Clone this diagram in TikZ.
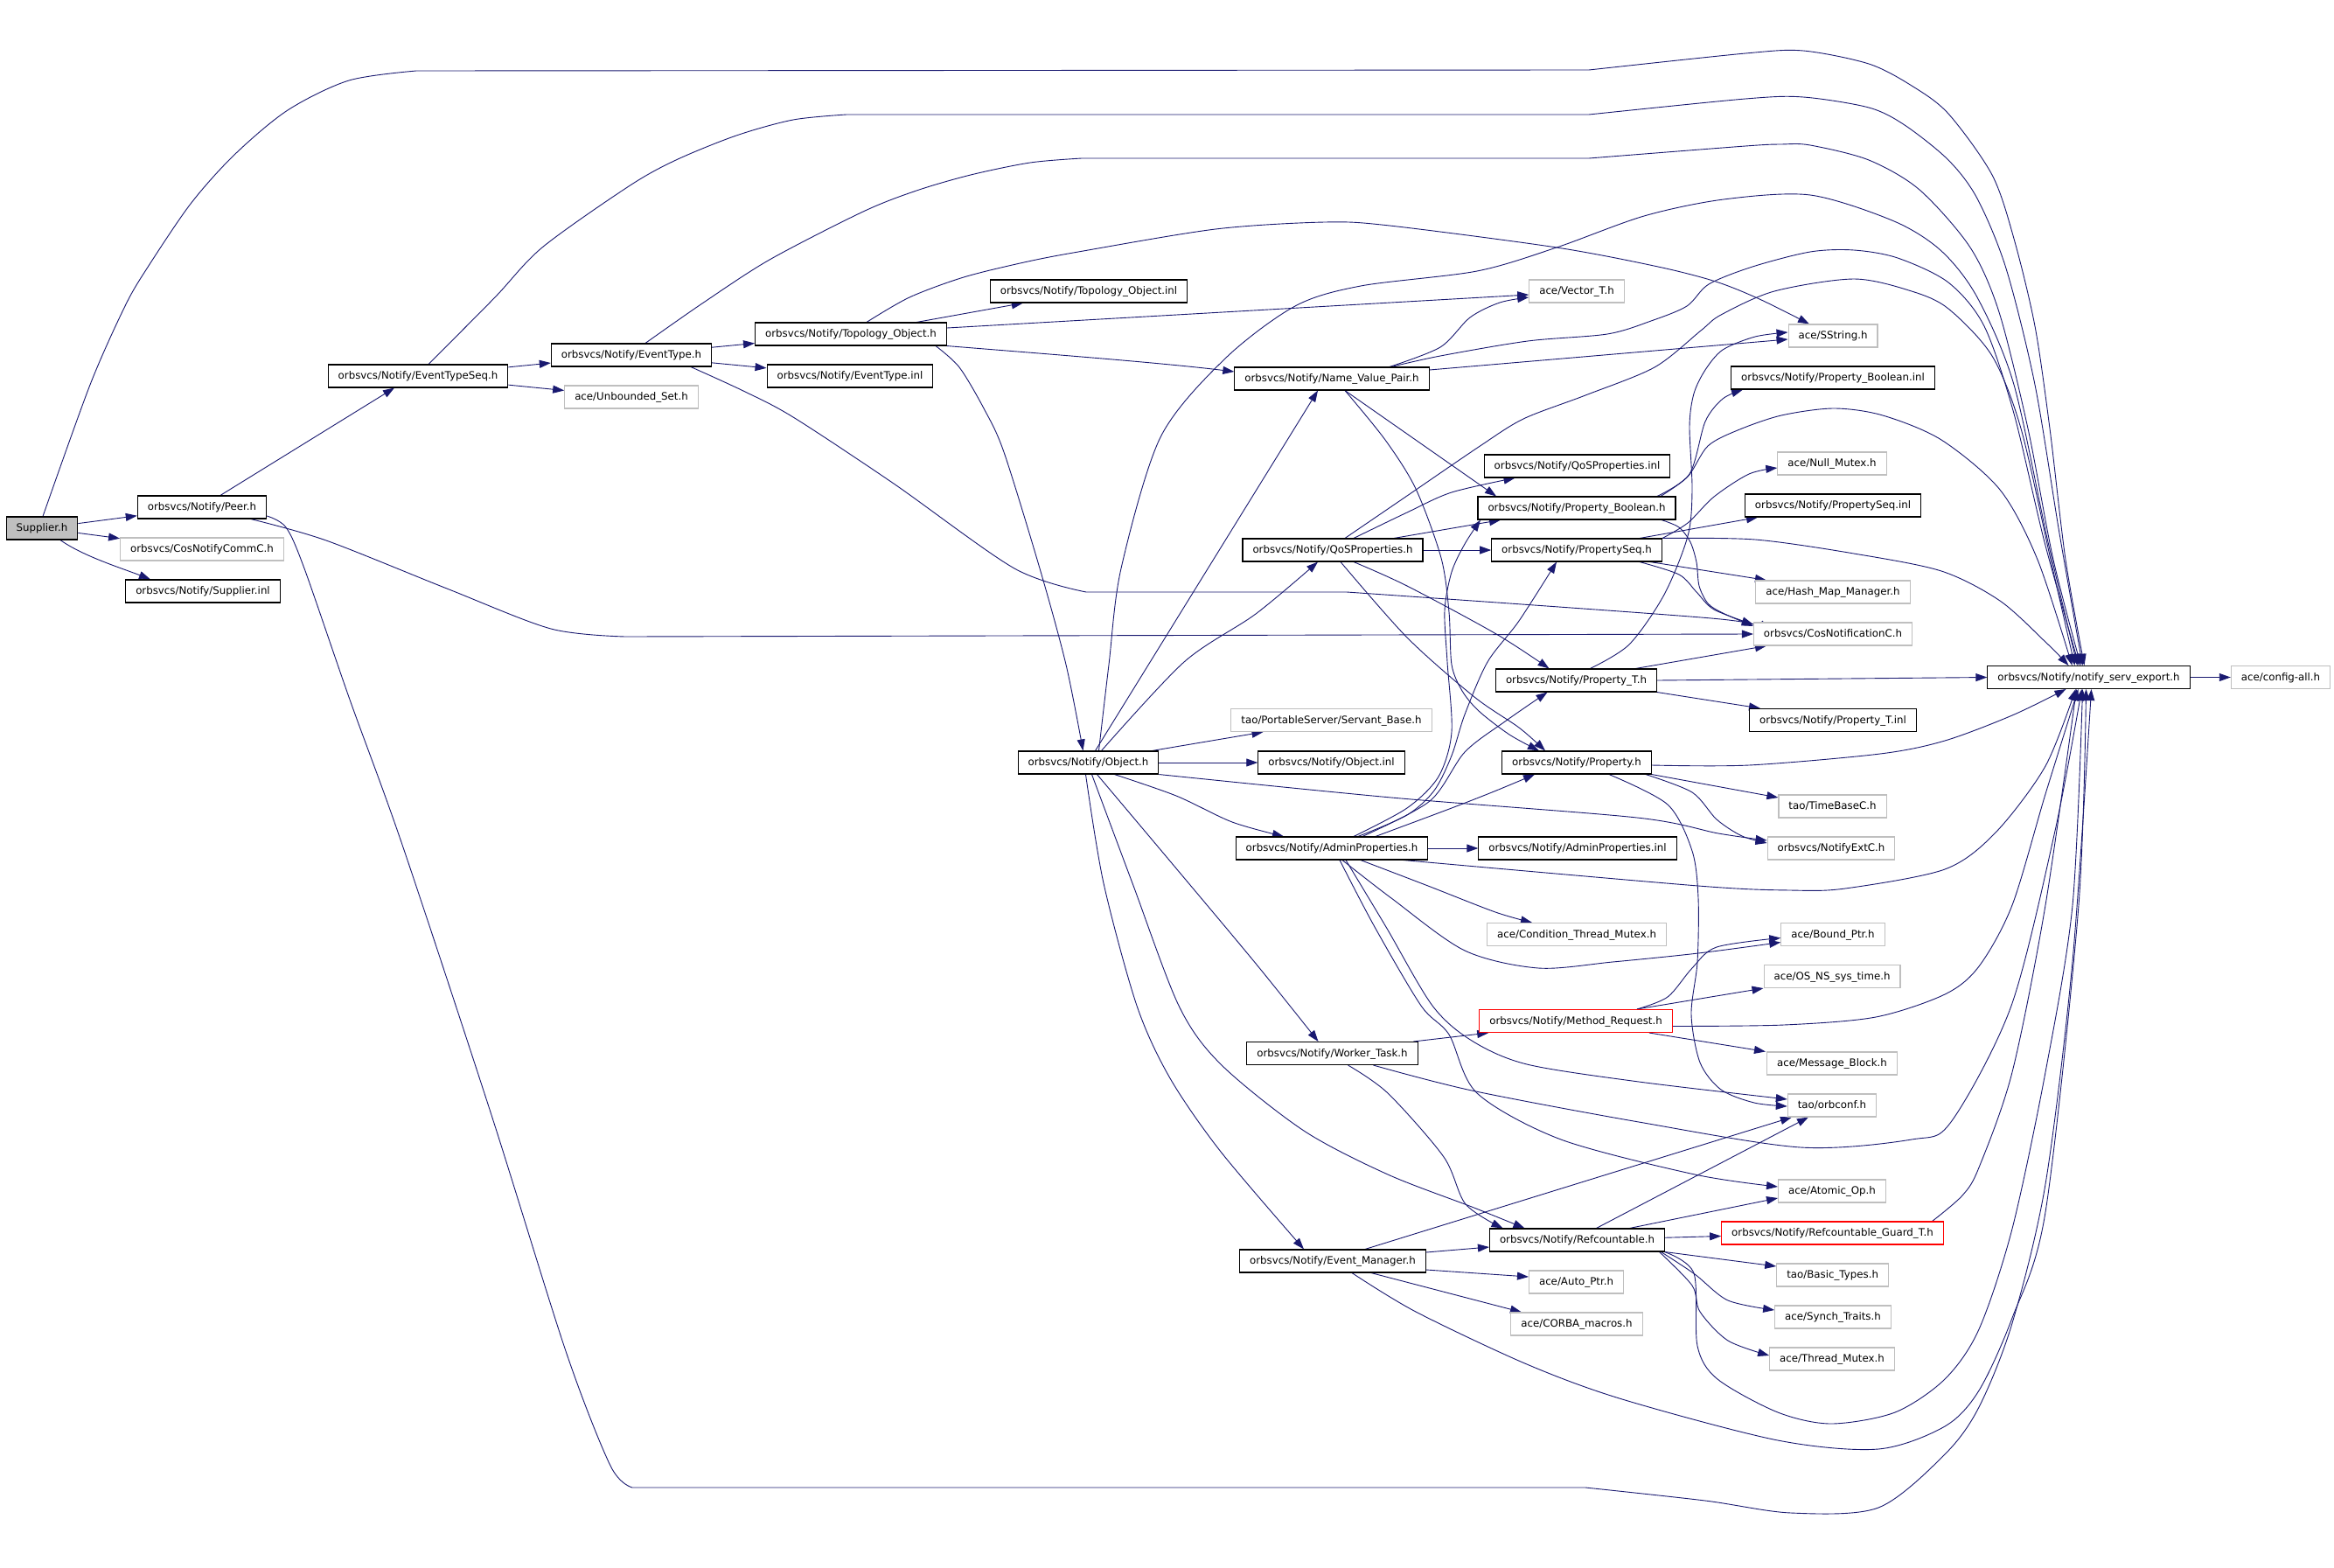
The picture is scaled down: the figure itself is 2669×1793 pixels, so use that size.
\documentclass[tikz,border=0pt]{standalone}
\usepackage{fontspec}
\newfontfamily\dvs{DejaVu Sans}
\usetikzlibrary{arrows.meta}
\definecolor{edgec}{RGB}{25,25,112}
\definecolor{gborder}{RGB}{191,191,191}
\definecolor{supfill}{RGB}{191,191,191}
\pgfdeclarelayer{bg}
\pgfdeclarelayer{paper}
\pgfsetlayers{paper,bg,main}
\begin{document}
\begin{tikzpicture}[x=1pt,y=-1pt,
  box/.style={draw=black, line width=1.1pt, fill=white, font=\dvs\fontsize{11.8pt}{14pt}\selectfont,
     inner xsep=11.5pt, inner ysep=0pt, minimum height=26pt, text height=9.5pt, text depth=2pt},
  gbox/.style={box, draw=gborder},
  rbox/.style={box, draw=red},
  edg/.style={draw=edgec, line width=0.9pt, line join=round, -{Triangle[length=13pt,width=9pt]}},
  sm/.style={smooth, tension=0.5}]
\begin{pgfonlayer}{paper}
\fill[white] (0,0) rectangle (2669,1793);
\end{pgfonlayer}
\useasboundingbox (0,0) rectangle (2669,1793);

\node[box, fill=supfill] (sup) at (48,604) {Supplier.h};
\node[box] (peer) at (231,580) {orbsvcs/Notify/Peer.h};
\node[gbox] (cnc) at (231,628) {orbsvcs/CosNotifyCommC.h};
\node[box] (sinl) at (232,676) {orbsvcs/Notify/Supplier.inl};
\node[box] (ets) at (478,430) {orbsvcs/Notify/EventTypeSeq.h};
\node[box] (et) at (722,406) {orbsvcs/Notify/EventType.h};
\node[gbox] (us) at (722,454) {ace/Unbounded\_Set.h};
\node[box] (topo) at (973,382) {orbsvcs/Notify/Topology\_Object.h};
\node[box] (etinl) at (972,430) {orbsvcs/Notify/EventType.inl};
\node[box] (topoinl) at (1245,333) {orbsvcs/Notify/Topology\_Object.inl};
\node[box] (obj) at (1244.5,872) {orbsvcs/Notify/Object.h};
\node[gbox] (vec) at (1803,333) {ace/Vector\_T.h};
\node[box] (nvp) at (1523,433) {orbsvcs/Notify/Name\_Value\_Pair.h};
\node[box] (qos) at (1524,629) {orbsvcs/Notify/QoSProperties.h};
\node[gbox] (sbase) at (1522.5,823.5) {tao/PortableServer/Servant\_Base.h};
\node[box] (objinl) at (1522.5,872) {orbsvcs/Notify/Object.inl};
\node[box] (admin) at (1523,970) {orbsvcs/Notify/AdminProperties.h};
\node[box] (wt) at (1523.5,1204.5) {orbsvcs/Notify/Worker\_Task.h};
\node[box] (em) at (1524,1442) {orbsvcs/Notify/Event\_Manager.h};
\node[gbox] (sstr) at (2096,384) {ace/SString.h};
\node[box] (qosinl) at (1803.5,533) {orbsvcs/Notify/QoSProperties.inl};
\node[box] (pb) at (1803,581) {orbsvcs/Notify/Property\_Boolean.h};
\node[box] (ps) at (1803,629) {orbsvcs/Notify/PropertySeq.h};
\node[box] (pt) at (1802.5,778) {orbsvcs/Notify/Property\_T.h};
\node[box] (prop) at (1803,872) {orbsvcs/Notify/Property.h};
\node[box] (admininl) at (1804,970) {orbsvcs/Notify/AdminProperties.inl};
\node[gbox] (ctm) at (1803,1068.5) {ace/Condition\_Thread\_Mutex.h};
\node[rbox] (mr) at (1802,1167.5) {orbsvcs/Notify/Method\_Request.h};
\node[box] (rc) at (1803.5,1418) {orbsvcs/Notify/Refcountable.h};
\node[gbox] (ap) at (1802.5,1466) {ace/Auto\_Ptr.h};
\node[gbox] (cm) at (1803,1514) {ace/CORBA\_macros.h};
\node[box] (pbinl) at (2096,432) {orbsvcs/Notify/Property\_Boolean.inl};
\node[gbox] (nm) at (2095,530) {ace/Null\_Mutex.h};
\node[box] (psinl) at (2096,578) {orbsvcs/Notify/PropertySeq.inl};
\node[gbox] (hmm) at (2096,677) {ace/Hash\_Map\_Manager.h};
\node[gbox] (cosn) at (2096,725) {orbsvcs/CosNotificationC.h};
\node[box] (ptinl) at (2096,823.5) {orbsvcs/Notify/Property\_T.inl};
\node[gbox] (tbc) at (2095.5,922) {tao/TimeBaseC.h};
\node[gbox] (nec) at (2094,970) {orbsvcs/NotifyExtC.h};
\node[gbox] (bp) at (2096,1068.5) {ace/Bound\_Ptr.h};
\node[gbox] (ost) at (2095,1116.5) {ace/OS\_NS\_sys\_time.h};
\node[gbox] (mb) at (2095,1216) {ace/Message\_Block.h};
\node[gbox] (orbc) at (2095,1264) {tao/orbconf.h};
\node[gbox] (aop) at (2095,1362) {ace/Atomic\_Op.h};
\node[rbox] (rgt) at (2095.5,1410) {orbsvcs/Notify/Refcountable\_Guard\_T.h};
\node[gbox] (bt) at (2095.6,1458) {tao/Basic\_Types.h};
\node[gbox] (st) at (2096,1506) {ace/Synch\_Traits.h};
\node[gbox] (tm) at (2095,1554) {ace/Thread\_Mutex.h};
\node[box] (nse) at (2388.5,774.5) {orbsvcs/Notify/notify\_serv\_export.h};
\node[gbox] (cfg) at (2608,774.5) {ace/config-all.h};

\begin{pgfonlayer}{bg}
% Supplier.h
\draw[edg] (sup) -- (peer);
\draw[edg] (sup) -- (cnc);
\draw[edg] ([xshift=21pt]sup.south) .. controls (95,636) and (140,650) .. ([xshift=-60pt]sinl.north);
\draw[edg] plot[sm] coordinates {([xshift=1pt]sup.north) (103,440) (143,350) (168,307) (218,233) (268,177) (329,126) (399,92) (476,81)}
   -- plot[sm] coordinates {(1817,80) (1996,61) (2062,58) (2137,73) (2186,98) (2228,130) (2278,200) (2303,273) (2327,373) (2344,490) (2362,640) ([xshift=-5pt]nse.north)};
% Peer.h
\draw[edg] ([xshift=21pt]peer.north) -- ([xshift=-27pt]ets.south);
\draw[edg] plot[sm] coordinates {([xshift=56pt]peer.south) (373,618) (511,673) (630,719) (715,728)} -- (cosn.west);
\draw[edg] plot[sm] coordinates {([yshift=-10pt]peer.east) (327,603) (348,650) (400,800) (460,966) (562,1275) (647,1545) (698,1676) (723,1701)}
   -- plot[sm] coordinates {(1813,1701) (1950,1716) (2048,1730) (2148,1724) (2224,1663) (2263,1609) (2301,1513) (2339,1354) (2370,1099) ([xshift=3pt]nse.south)};
% EventTypeSeq.h
\draw[edg] (ets) -- (et);
\draw[edg] (ets) -- (us);
\draw[edg] plot[sm] coordinates {([xshift=12pt]ets.north) (566,340) (620,283) (719,213) (773,183) (842,155) (907,137) (968,131)}
   -- plot[sm] coordinates {(1817,131) (1996,113) (2062,111) (2137,123) (2178,143) (2228,183) (2261,227) (2294,307) (2327,440) (2355,610) ([xshift=-7pt]nse.north)};
% EventType.h
\draw[edg] (et) -- (topo);
\draw[edg] (et) -- (etinl);
\draw[edg] plot[sm] coordinates {([xshift=68pt]et.south) (850,447) (907,477) (1022,553) (1160,650) (1242,677)}
   -- plot[sm] coordinates {(1540,677) (1957,707) ([yshift=7pt]cosn.west)};
\draw[edg] plot[sm] coordinates {([xshift=16pt]et.north) (803,347) (880,297) (987,242) (1048,218) (1110,200) (1178,186) (1237,181)}
   -- plot[sm] coordinates {(1817,181) (1996,167) (2037,165) (2070,166) (2137,183) (2195,217) (2253,283) (2286,357) (2319,490) (2348,640) ([xshift=-9pt]nse.north)};
% Topology_Object.h
\draw[edg] (topo) -- (topoinl);
\draw[edg] ([yshift=7pt]topo.east) -- ([yshift=-4pt]vec.west);
\draw[edg] (topo.south east) .. controls (1200,405) and (1330,415) .. ([yshift=8pt]nvp.west);
\draw[edg] plot[sm] coordinates {([xshift=97pt]topo.south) (1097,420) (1125,467) (1148,517) (1189,650) (1219,760) ([xshift=-6pt]obj.north)};
\draw[edg] plot[sm] coordinates {([xshift=18pt]topo.north) (1040,340) (1102,317) (1171,300) (1233,288) (1390,262) (1515,254) (1589,258) (1780,283) (1896,305) (1962,322) (2012,342) ([xshift=-27pt]sstr.north)};
% Name_Value_Pair.h
\draw[edg] plot[sm] coordinates {([xshift=66pt]nvp.north) (1647,397) (1681,363) (1715,346) ([yshift=-7pt]vec.west)};
\draw[edg] ([yshift=10pt]nvp.east) -- ([yshift=-4pt]sstr.west);
\draw[edg] plot[sm] coordinates {([xshift=68pt]nvp.north) (1647,407) (1747,390) (1838,382) (1888,367) (1929,350) (1954,325) (2004,305) (2070,288) (2120,286) (2170,295) (2228,323) (2269,373) (2303,473) (2338,620) ([xshift=-11pt]nse.north)};
\draw[edg] ([xshift=15pt]nvp.south) -- ([xshift=-92pt]pb.north);
\draw[edg] plot[sm] coordinates {([xshift=15pt]nvp.south) (1584,503) (1619,559) (1648,638) (1657,700) (1660,760) (1672,790) (1691,813) (1726,840) ([xshift=-43pt]prop.north)};
% Object.h
\draw[edg] ([xshift=8pt]obj.north) -- ([xshift=-16pt]nvp.south);
\draw[edg] plot[sm] coordinates {([xshift=15pt]obj.north) (1354,757) (1436,702) ([xshift=-17pt]qos.south)};
\draw[edg] ([xshift=73pt]obj.north) -- ([xshift=-78pt]sbase.south);
\draw[edg] (obj) -- (objinl);
\draw[edg] plot[sm] coordinates {(obj.south east) (1591,912) (1872,935) (1965,953) ([yshift=9pt]nec.west)};
\draw[edg] plot[sm] coordinates {([xshift=30pt]obj.south) (1345,910) (1409,940) ([xshift=-55pt]admin.north)};
\draw[edg] plot[sm] coordinates {([xshift=10pt]obj.south) (1345,993) (1437,1103) ([xshift=-16pt]wt.north)};
\draw[edg] plot[sm] coordinates {([xshift=4pt]obj.south) (1295,1010) (1348,1150) (1396,1217) (1491,1293) (1587,1343) (1683,1380) ([xshift=-60pt]rc.north)};
\draw[edg] plot[sm] coordinates {([xshift=-3pt]obj.south) (1262,1010) (1300,1150) (1338,1233) (1396,1317) ([xshift=-33pt]em.north)};
\draw[edg] plot[sm] coordinates {([xshift=12pt]obj.north) (1268,760) (1282,650) (1327,500) (1401,410) (1481,350) (1556,327) (1689,310) (1780,283) (1880,247) (1971,228) (2070,223) (2166,253) (2220,287) (2261,340) (2303,440) (2342,620) ([xshift=-13pt]nse.north)};
% QoSProperties.h
\draw[edg] plot[sm] coordinates {([xshift=24pt]qos.north) (1609,586) (1660,563) ([xshift=-71pt]qosinl.south)};
\draw[edg] ([xshift=70pt]qos.north) -- ([xshift=-87pt]pb.south);
\draw[edg] (qos) -- (ps);
\draw[edg] plot[sm] coordinates {([xshift=24pt]qos.south) (1609,670) (1711,725) ([xshift=-31pt]pt.north)};
\draw[edg] plot[sm] coordinates {([xshift=9pt]qos.south) (1609,729) (1686,797) (1737,832) ([xshift=-36pt]prop.north)};
\draw[edg] plot[sm] coordinates {([xshift=14pt]qos.north) (1609,567) (1691,511) (1742,479) (1813,452) (1892,420) (1945,378) (1968,360) (2029,333) (2120,319) (2186,333) (2228,353) (2278,407) (2311,490) (2345,640) ([xshift=-16pt]nse.north)};
% Property_Boolean.h
\draw[edg] plot[sm] coordinates {([xshift=92pt]pb.north) (1932,542) (1950,482) (1970,456) ([xshift=-103pt]pbinl.south)};
\draw[edg] plot[sm] coordinates {([xshift=97pt]pb.south) (1920,603) (1933,620) (1940,643) (1943,670) (1953,690) (1970,701) ([yshift=9pt]cosn.west)};
\draw[edg] plot[sm] coordinates {([xshift=96pt]pb.north) (1930,545) (1953,510) (1987,492) (2037,475) (2097,467) (2153,475) (2220,503) (2287,560) (2330,640) ([xshift=-19pt]nse.north)};
% PropertySeq.h
\draw[edg] ([xshift=72pt]ps.north) -- ([xshift=-86pt]psinl.south);
\draw[edg] plot[sm] coordinates {([xshift=98pt]ps.north) (1930,598) (1960,568) (2000,542) ([yshift=-5pt]nm.west)};
\draw[edg] ([xshift=84pt]ps.south) -- ([xshift=-76pt]hmm.north);
\draw[edg] plot[sm] coordinates {([xshift=72pt]ps.south) (1920,657) (1940,677) (1960,697) ([yshift=11pt]cosn.west)};
\draw[edg] plot[sm] coordinates {(ps.north east) (2007,617) (2120,633) (2220,653) (2287,687) (2340,735) ([xshift=-23pt]nse.north)};
% Property_T.h
\draw[edg] plot[sm] coordinates {([xshift=16pt]pt.north) (1863,737) (1903,680) (1930,613) (1935,560) (1932,487) (1937,450) (1950,423) (1970,400) (2007,385) ([yshift=4pt]sstr.west)};
\draw[edg] ([xshift=68pt]pt.north) -- ([xshift=-76pt]cosn.south);
\draw[edg] (pt.east) -- (nse.west);
\draw[edg] (pt.south east) -- ([xshift=-83pt]ptinl.north);
% Property.h
\draw[edg] plot[sm] coordinates {([yshift=-3pt]prop.east) (2000,875) (2150,862) (2224,847) (2301,818) ([xshift=-26pt]nse.south)};
\draw[edg] (prop.south east) -- ([yshift=10pt]tbc.west);
\draw[edg] plot[sm] coordinates {([xshift=79pt]prop.south) (1935,906) (1963,937) (1992,956) ([yshift=6pt]nec.west)};
\draw[edg] plot[sm] coordinates {([xshift=37pt]prop.south) (1907,920) (1935,973) (1942,1027) (1941,1100) (1934,1160) (1944,1215) (1968,1246) (2006,1261) ([yshift=-1pt]orbc.west)};
% AdminProperties.h
\draw[edg] (admin) -- (admininl);
\draw[edg] plot[sm] coordinates {([xshift=50pt]admin.north) (1660,924) (1711,904) ([xshift=-48pt]prop.south)};
\draw[edg] plot[sm] coordinates {([xshift=35pt]admin.north) (1635,916) (1675,860) (1721,825) ([xshift=-33pt]pt.south)};
\draw[edg] plot[sm] coordinates {([xshift=30pt]admin.north) (1609,932) (1640,904) (1660,864) (1675,817) (1701,757) (1737,710) ([xshift=-23pt]ps.south)};
\draw[edg] plot[sm] coordinates {([xshift=25pt]admin.north) (1609,924) (1645,888) (1660,837) (1655,757) (1652,698) (1660,654) (1675,622) ([xshift=-110pt]pb.south)};
\draw[edg] plot[sm] coordinates {([xshift=33pt]admin.south) (1633,1013) (1710,1043) ([xshift=-51pt]ctm.north)};
\draw[edg] plot[sm] coordinates {([xshift=12pt]admin.south) (1591,1027) (1675,1087) (1759,1107) (1844,1100) (1942,1090) ([yshift=-9pt]bp.west)};
\draw[edg] plot[sm] coordinates {([xshift=82pt]admin.south) (1942,1013) (2047,1018) (2110,1016) (2224,994) (2282,952) (2339,876) ([xshift=-15pt]nse.south)};
\draw[edg] plot[sm] coordinates {([xshift=16pt]admin.south) (1585,1060) (1638,1150) (1683,1190) (1746,1217) (1874,1237) ([yshift=7pt]orbc.west)};
\draw[edg] plot[sm] coordinates {([xshift=9pt]admin.south) (1572,1060) (1625,1150) (1657,1183) (1689,1250) (1785,1303) (1938,1343) ([yshift=5pt]aop.west)};
% Method_Request.h
\draw[edg] plot[sm] coordinates {([xshift=70pt]mr.north) (1907,1140) (1935,1107) (1963,1083) ([yshift=-4pt]bp.west)};
\draw[edg] ([xshift=70pt]mr.north) -- (ost.south west);
\draw[edg] plot[sm] coordinates {([yshift=-6pt]mr.east) (2040,1172) (2145,1163) (2224,1137) (2263,1105) (2301,1035) (2339,908) ([xshift=-12pt]nse.south)};
\draw[edg] ([xshift=84pt]mr.south) -- ([xshift=-76pt]mb.north);
% Worker_Task.h
\draw[edg] ([xshift=93pt]wt.north) -- ([xshift=11pt]mr.south west);
\draw[edg] plot[sm] coordinates {([xshift=18pt]wt.south) (1587,1250) (1651,1323) (1676,1377) ([xshift=-85pt]rc.north)};
\draw[edg] plot[sm] coordinates {([xshift=47pt]wt.south) (1683,1247) (1874,1283) (2059,1312) (2186,1303) (2231,1283) (2300,1150) (2350,950) ([xshift=-8pt]nse.south)};
% Event_Manager.h
\draw[edg] ([xshift=37pt]em.north) -- ([xshift=-46pt]orbc.south);
\draw[edg] ([yshift=10pt]em.east) -- ([yshift=-8pt]rc.west);
\draw[edg] ([yshift=-10pt]em.east) -- ([yshift=6pt]ap.west);
\draw[edg] ([xshift=44pt]em.south) -- ([xshift=-63pt]cm.north);
\draw[edg] plot[sm] coordinates {([xshift=22pt]em.south) (1619,1500) (1746,1560) (1855,1600) (2033,1647) (2148,1657) (2224,1631) (2263,1590) (2301,1507) (2339,1386) (2377,1035) ([xshift=-3pt]nse.south)};
% Refcountable.h
\draw[edg] ([xshift=22pt]rc.north) -- ([xshift=-27pt]orbc.south);
\draw[edg] ([xshift=60pt]rc.north) -- ([yshift=-8pt]aop.west);
\draw[edg] (rc) -- (rgt);
\draw[edg] (rc.south east) -- ([yshift=10pt]bt.west);
\draw[edg] plot[sm] coordinates {([xshift=96pt]rc.south) (1938,1457) (1976,1487) ([yshift=8pt]st.west)};
\draw[edg] plot[sm] coordinates {([xshift=94pt]rc.south) (1935,1470) (1944,1500) (1976,1533) ([yshift=4pt]tm.west)};
\draw[edg] plot[sm] coordinates {([xshift=100pt]rc.south) (1937,1456) (1941,1539) (1964,1577) (2033,1615) (2094,1628) (2167,1615) (2224,1577) (2263,1520) (2301,1405) (2339,1226) (2370,1035) ([xshift=-7pt]nse.south)};
% Refcountable_Guard_T.h
\draw[edg] plot[sm] coordinates {([xshift=114pt]rgt.north) (2244,1367) (2263,1335) (2301,1226) (2339,1035) ([xshift=-14pt]nse.south)};
% notify_serv_export.h
\draw[edg] (nse) -- (cfg);
\end{pgfonlayer}
\end{tikzpicture}
\end{document}
